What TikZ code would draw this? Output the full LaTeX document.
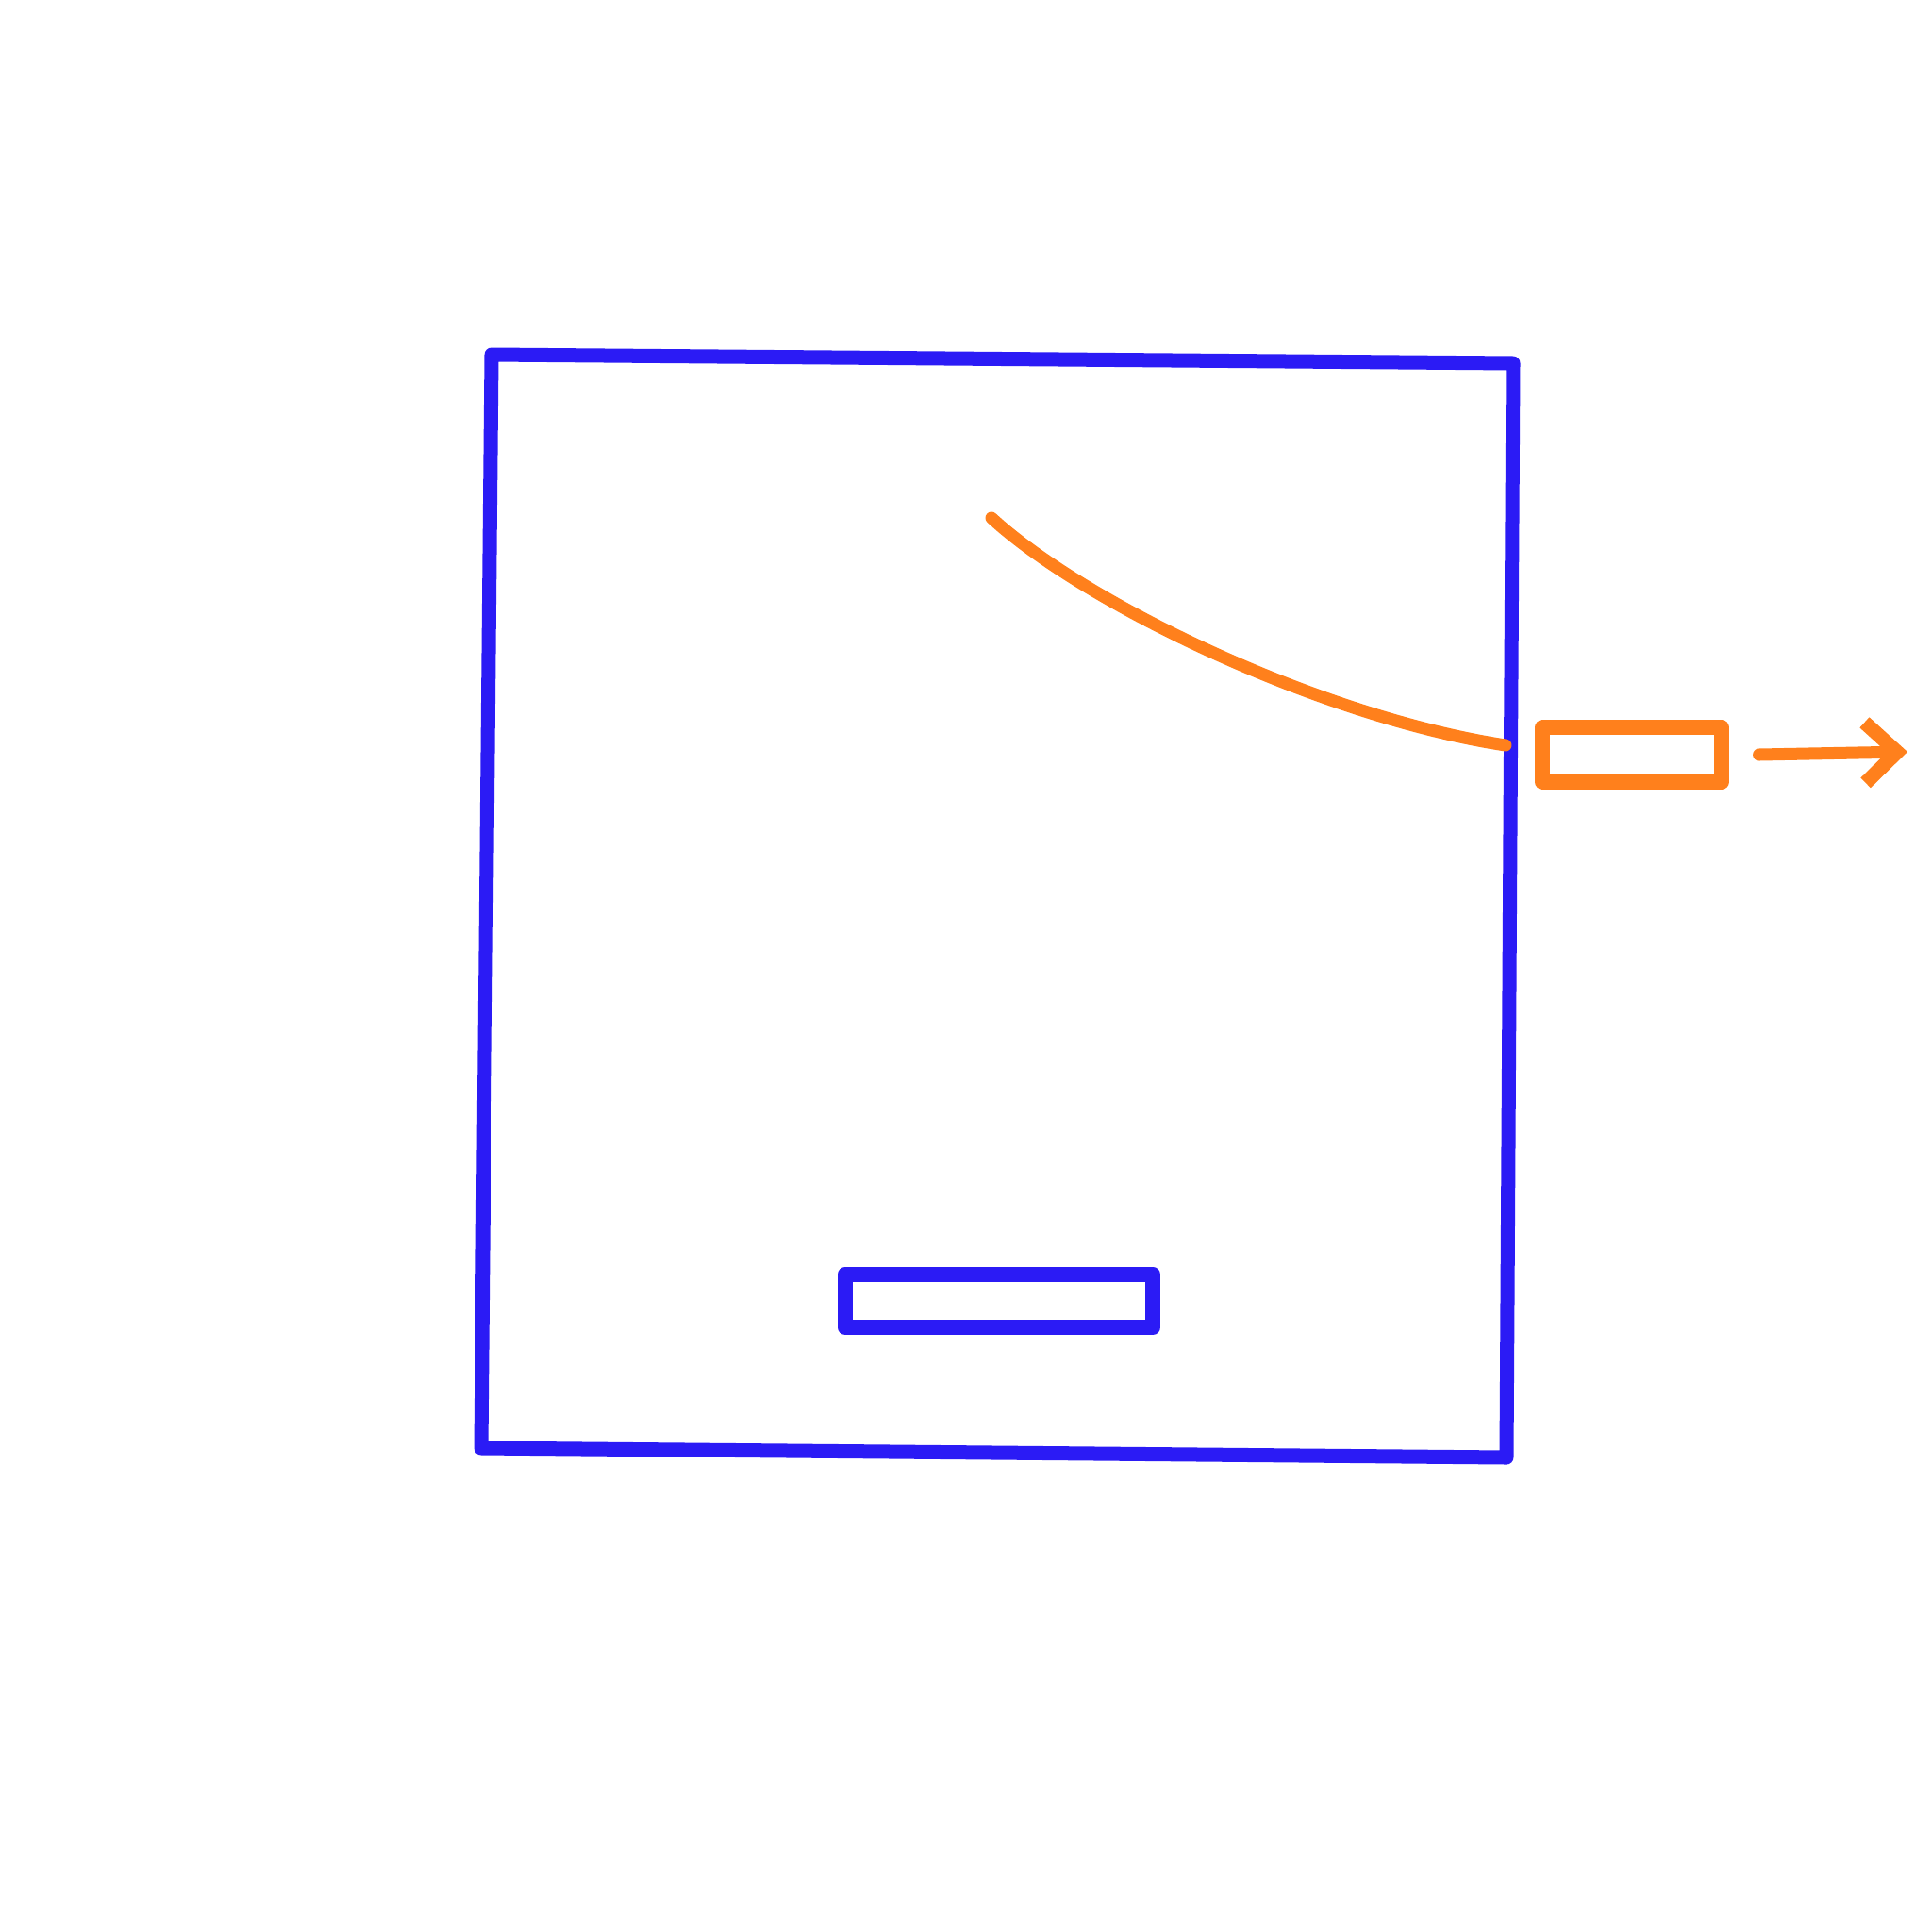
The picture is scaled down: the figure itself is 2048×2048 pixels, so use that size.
\documentclass[tikz,border=0pt]{standalone}
\usepackage{xcolor}
\usepackage{tikz}
\usetikzlibrary{arrows.meta,positioning}
\definecolor{PenBlue}{RGB}{43,27,245}
\definecolor{PenOrange}{RGB}{255,128,28}

\begin{document}
\begin{tikzpicture}[
 x=0.01cm, y=-0.01cm,
 bluepen/.style={draw=PenBlue, line width=0.15cm, line join=round, line cap=round},
 orangepen/.style={draw=PenOrange, line width=0.13cm, line join=round, line cap=round},
 slot/.style={bluepen, line width=0.16cm, minimum width=3.26cm, minimum height=0.56cm, inner sep=0pt},
 tag/.style={orangepen, line width=0.16cm, minimum width=1.89cm, minimum height=0.58cm, inner sep=0pt},
 arr/.style={orangepen, -{Straight Barb[length=3.4mm, width=6.4mm, line width=0.15cm]}}
]
\useasboundingbox (0,0) rectangle (2048,2048);
% frame
\coordinate (tl) at (521,376);
\coordinate (tr) at (1604,385);
\coordinate (br) at (1597,1545);
\coordinate (bl) at (510,1535);
\draw[bluepen] (tl) -- (tr) -- (br) -- (bl) -- cycle;
% slot at the bottom
\node[slot] (slot) at (1059,1379) {};
% curve out to the right edge
\coordinate (start) at (1051,549);
\coordinate (exit) at (1596,790);
\draw[orangepen] (start) .. controls (1150,640) and (1400,760) .. (exit);
% tag and arrow
\node[tag] (tag) at (1730,800) {};
\coordinate (out) at (2022,797);
\draw[arr] ([xshift=0.32cm]tag.east) -- (out);
\end{tikzpicture}
\end{document}
